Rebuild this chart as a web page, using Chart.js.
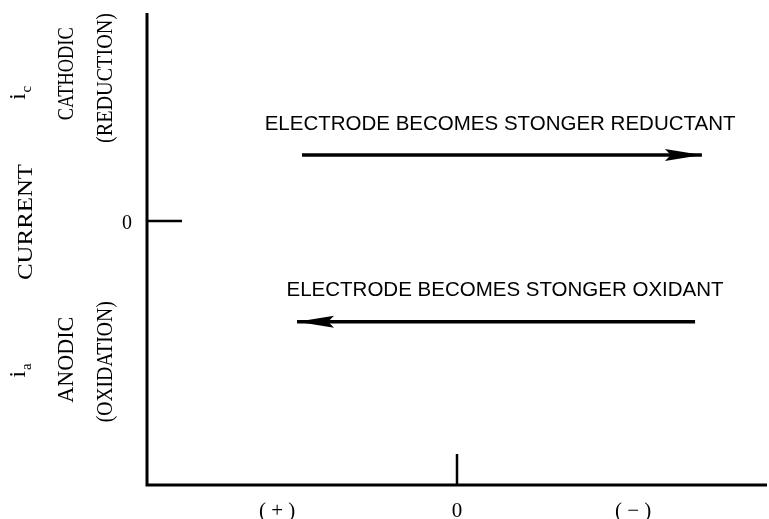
<!DOCTYPE html>
<html>
<head>
<meta charset="utf-8">
<script src="https://cdn.jsdelivr.net/npm/chart.js@4/dist/chart.umd.min.js"></script>
<style>
  html, body { margin: 0; padding: 0; background: #fff; }
  #wrap { width: 769px; height: 519px; }
</style>
</head>
<body>
<div id="wrap"><canvas id="c" width="769" height="519"></canvas></div>
<script>
// Potential axis: (+) on the left, 0 in the middle, (−) on the right
const xTickValues = [-0.58, 0, 0.568];
const xTickLabels = ['( + )', '0', '( − )'];
const xTickMarks = [0];

// Current axis: cathodic above zero, anodic below
const yTickValues = [0];
const yTickLabels = ['0'];
const yTickMarks = [0];

// Direction arrows (tail → head)
const reductantArrowX = [-0.5, 0.79];
const reductantArrowY = [1.27, 1.27];
const oxidantArrowX = [0.768, -0.516];
const oxidantArrowY = [-1.94, -1.94];

// Captions above each arrow
const captionText = ['ELECTRODE BECOMES STONGER REDUCTANT', 'ELECTRODE BECOMES STONGER OXIDANT'];
const captionX = [0.139, 0.155];
const captionY = [1.85, -1.33];

const SERIF = '"Liberation Serif", "Times New Roman", serif';
const SANS = '"Liberation Sans", Arial, sans-serif';

function toPoints(xs, ys) { return xs.map((v, i) => ({ x: v, y: ys[i] })); }

// Rotated side labels (serif, set to a fixed length):
// [text, baseline x in px, centre y as current value, font size, set length in px]
const sideLabels = [
  ['CURRENT', 32, -0.02, 22, 116],
  ['CATHODIC', 73, 2.83, 23, 93],
  ['(REDUCTION)', 112, 2.75, 23, 130],
  ['ANODIC', 73, -2.67, 23, 86],
  ['(OXIDATION)', 112, -2.71, 23, 121]
];
// Current symbols with subscripts: [main, subscript, baseline x, start y value]
const currentSymbols = [
  ['i', 'c', 25, 2.33],
  ['i', 'a', 25, -3.01]
];

const drawAnnotations = {
  id: 'drawAnnotations',
  afterDatasetsDraw(chart) {
    const { ctx, chartArea: a, scales: { x, y } } = chart;
    ctx.save();
    ctx.fillStyle = '#000';
    ctx.strokeStyle = '#000';

    // axis lines
    ctx.lineWidth = 3;
    ctx.beginPath();
    ctx.moveTo(a.left, a.top);
    ctx.lineTo(a.left, a.bottom);
    ctx.lineTo(a.right, a.bottom);
    ctx.stroke();

    // inward tick marks
    ctx.lineWidth = 2.5;
    yTickMarks.forEach(v => {
      const py = y.getPixelForValue(v);
      ctx.beginPath(); ctx.moveTo(a.left, py); ctx.lineTo(a.left + 35, py); ctx.stroke();
    });
    xTickMarks.forEach(v => {
      const px = x.getPixelForValue(v);
      ctx.beginPath(); ctx.moveTo(px, a.bottom); ctx.lineTo(px, a.bottom - 31); ctx.stroke();
    });

    // tick labels
    ctx.font = '21px ' + SERIF;
    ctx.textAlign = 'center';
    ctx.textBaseline = 'middle';
    xTickValues.forEach((v, i) => ctx.fillText(xTickLabels[i], x.getPixelForValue(v), a.bottom + 26));
    ctx.font = '20px ' + SERIF;
    yTickValues.forEach((v, i) => ctx.fillText(yTickLabels[i], a.left - 20, y.getPixelForValue(v) + 3));

    // arrow captions
    ctx.font = '20.5px ' + SANS;
    captionText.forEach((t, i) => ctx.fillText(t, x.getPixelForValue(captionX[i]), y.getPixelForValue(captionY[i])));

    // arrowheads at the last point of each arrow dataset
    chart.data.datasets.forEach((ds, di) => {
      const pts = chart.getDatasetMeta(di).data;
      const tail = pts[0], tip = pts[pts.length - 1];
      const ang = Math.atan2(tip.y - tail.y, tip.x - tail.x);
      ctx.save();
      ctx.translate(tip.x, tip.y);
      ctx.rotate(ang);
      ctx.beginPath();
      ctx.moveTo(0, 0);
      ctx.lineTo(-37, -6);
      ctx.lineTo(-31, 0);
      ctx.lineTo(-37, 6);
      ctx.closePath();
      ctx.fill();
      ctx.restore();
    });

    // rotated side labels, fitted to their set length
    ctx.textBaseline = 'alphabetic';
    sideLabels.forEach(([t, bx, v, size, len]) => {
      ctx.save();
      ctx.translate(bx, y.getPixelForValue(v));
      ctx.rotate(-Math.PI / 2);
      ctx.font = size + 'px ' + SERIF;
      ctx.textAlign = 'center';
      const w = ctx.measureText(t).width;
      ctx.scale(len / w, 1);
      ctx.fillText(t, 0, 0);
      ctx.restore();
    });
    currentSymbols.forEach(([m, s, bx, v]) => {
      ctx.save();
      ctx.translate(bx, y.getPixelForValue(v));
      ctx.rotate(-Math.PI / 2);
      ctx.textAlign = 'left';
      ctx.font = '23px ' + SERIF;
      ctx.fillText(m, 0, 0);
      const w = ctx.measureText(m).width;
      ctx.font = '15px ' + SERIF;
      ctx.fillText(s, w + 1, 6);
      ctx.restore();
    });

    ctx.restore();
  }
};

new Chart(document.getElementById('c'), {
  type: 'line',
  data: {
    datasets: [
      { data: toPoints(reductantArrowX, reductantArrowY) },
      { data: toPoints(oxidantArrowX, oxidantArrowY) }
    ]
  },
  options: {
    responsive: false,
    animation: false,
    events: [],
    layout: { padding: { left: 147, right: 2, top: 13, bottom: 34 } },
    elements: {
      line: { borderColor: '#000', borderWidth: 3.5, tension: 0 },
      point: { radius: 0 }
    },
    scales: {
      x: { type: 'linear', min: -1, max: 1, display: false },
      y: { type: 'linear', min: -5.08, max: 4, display: false }
    },
    plugins: { legend: { display: false }, tooltip: { enabled: false } }
  },
  plugins: [drawAnnotations]
});
</script>
</body>
</html>
